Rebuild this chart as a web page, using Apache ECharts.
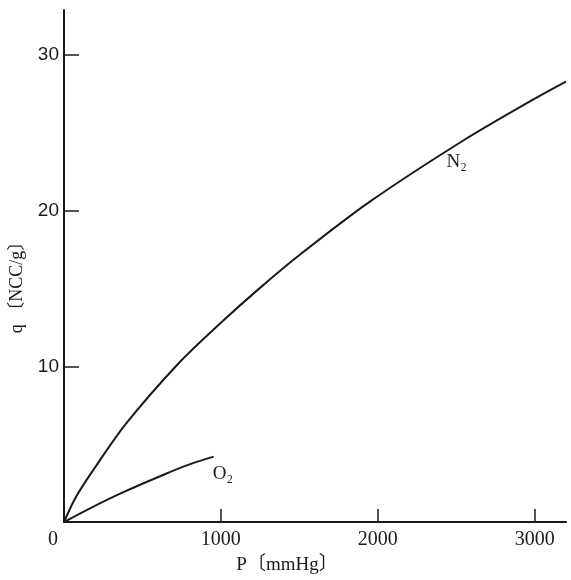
<!DOCTYPE html>
<html>
<head>
<meta charset="utf-8">
<script src="https://cdn.jsdelivr.net/npm/echarts@6/dist/echarts.min.js"></script>
<style>html,body{margin:0;padding:0;background:#fff;}#c{width:571px;height:580px;}</style>
</head>
<body>
<div id="c"></div>
<script>
// Data
var n2P = [0, 76, 184, 394, 731, 1000, 1233, 1507, 1952, 2543, 3000, 3200];
var n2Q = [0, 1.6, 3.3, 6.3, 10.2, 12.8, 14.9, 17.2, 20.6, 24.5, 27.2, 28.3];
var o2P = [0, 160, 375, 650, 800, 954];
var o2Q = [0, 0.85, 1.9, 3.1, 3.7, 4.2];
var xTicks = [0, 1000, 2000, 3000];
var yTicks = [0, 10, 20, 30];
var seriesNames = ['N₂', 'O₂'];
var labelAt = [[2503, 23.1], [1013, 3.1]];
var xName = 'P〔mmHg〕';
var yName = 'q 〔NCC/g〕';

function pairs(a, b) { return a.map(function (v, i) { return [v, b[i]]; }); }

var ink = '#1a1a1a';
var serif = 'Liberation Serif, DejaVu Serif, Noto Sans CJK JP, serif';

var chart = echarts.init(document.getElementById('c'), null, { renderer: 'canvas' });
chart.setOption({
  animation: false,
  backgroundColor: '#fff',
  grid: { left: 63, right: 5, top: 10, bottom: 57, containLabel: false },
  xAxis: {
    type: 'value', min: 0, max: 3200,
    name: xName, nameLocation: 'middle', nameGap: 34,
    nameTextStyle: { fontFamily: serif, fontSize: 19, color: ink, padding: [0, 56, 0, 0] },
    axisLine: { show: true, lineStyle: { color: ink, width: 2 } },
    axisTick: { show: true, inside: true, length: 13, lineStyle: { color: ink, width: 1.5 }, customValues: xTicks },
    axisLabel: {
      show: true, margin: 8, color: ink, fontFamily: serif, fontSize: 20,
      customValues: xTicks,
      formatter: function (v) { return v === 0 ? '{z|0}' : String(v); },
      rich: { z: { fontFamily: serif, fontSize: 20, color: ink, padding: [0, 22, 0, 0] } }
    },
    splitLine: { show: false }
  },
  yAxis: {
    type: 'value', min: 0, max: 32.9,
    name: yName, nameLocation: 'middle', nameGap: 38,
    nameTextStyle: { fontFamily: serif, fontSize: 18, color: ink, padding: [0, 34, 0, 0] },
    axisLine: { show: true, lineStyle: { color: ink, width: 2 } },
    axisTick: { show: true, inside: true, length: 15, lineStyle: { color: ink, width: 1.5 }, customValues: yTicks },
    axisLabel: {
      show: true, margin: 5, color: ink, fontFamily: 'Liberation Sans, Arial, sans-serif', fontSize: 19,
      customValues: yTicks.filter(function (v) { return v !== 0; })
    },
    splitLine: { show: false }
  },
  series: [
    {
      name: seriesNames[0], type: 'line', smooth: 0.3, showSymbol: false, clip: false,
      data: pairs(n2P, n2Q),
      lineStyle: { color: ink, width: 2 },
      markPoint: {
        symbol: 'circle', symbolSize: 0,
        label: { show: true, formatter: seriesNames[0], color: ink, fontFamily: serif, fontSize: 19, position: 'inside' },
        data: [{ coord: labelAt[0] }]
      }
    },
    {
      name: seriesNames[1], type: 'line', smooth: 0.3, showSymbol: false, clip: false,
      data: pairs(o2P, o2Q),
      lineStyle: { color: ink, width: 2 },
      markPoint: {
        symbol: 'circle', symbolSize: 0,
        label: { show: true, formatter: seriesNames[1], color: ink, fontFamily: serif, fontSize: 19, position: 'inside' },
        data: [{ coord: labelAt[1] }]
      }
    }
  ]
});
</script>
</body>
</html>
